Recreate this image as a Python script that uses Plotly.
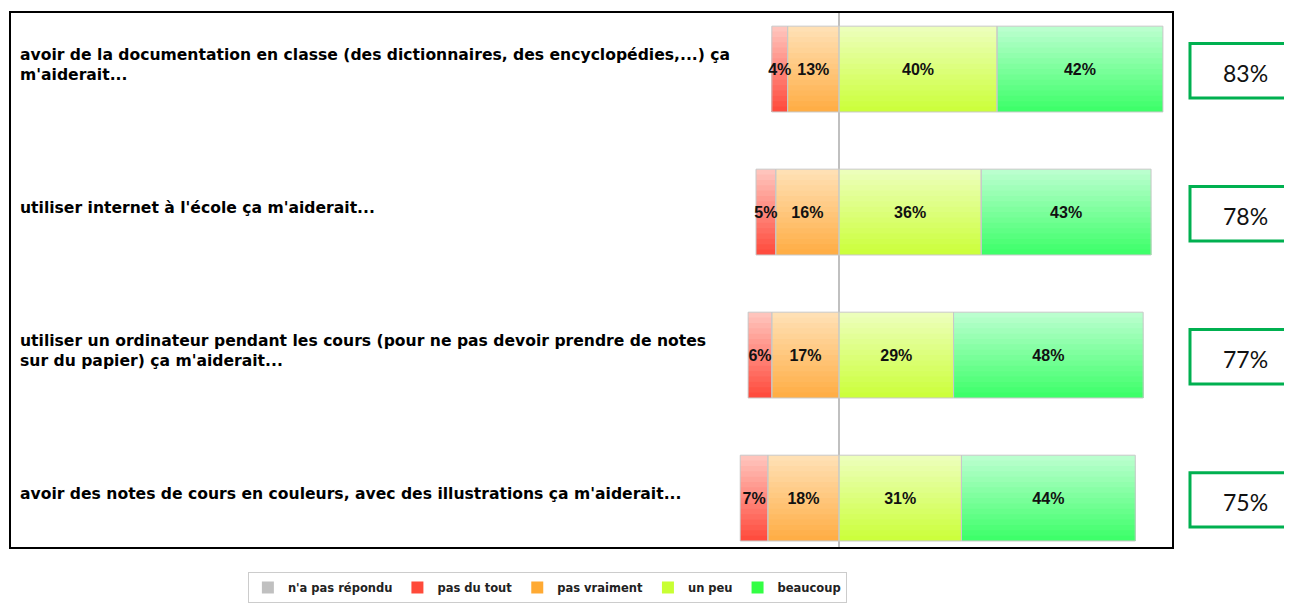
import plotly.graph_objects as go

categories = [
    "avoir de la documentation en classe (des dictionnaires, des encyclopédies,...) ça<br>m'aiderait...",
    "utiliser internet à l'école ça m'aiderait...",
    "utiliser un ordinateur pendant les cours (pour ne pas devoir prendre de notes<br>sur du papier) ça m'aiderait...",
    "avoir des notes de cours en couleurs, avec des illustrations ça m'aiderait...",
]
no_answer = [0, 0, 0, 0]
pas_du_tout = [4, 5, 6, 7]
pas_vraiment = [13, 16, 17, 18]
un_peu = [40, 36, 29, 31]
beaucoup = [42, 43, 48, 44]
totals = ["83%", "78%", "77%", "75%"]

# gradient (top colour, bottom colour) and legend colour per series
grad = {
    "pas du tout": ((255, 196, 188), (255, 76, 62)),
    "pas vraiment": ((255, 224, 180), (255, 174, 70)),
    "un peu": ((236, 255, 186), (204, 255, 60)),
    "beaucoup": ((186, 255, 206), (62, 255, 106)),
}
legend_col = {
    "n'a pas répondu": "#c0c0c0",
    "pas du tout": "#ff4a3a",
    "pas vraiment": "#ffaa33",
    "un peu": "#c8ff33",
    "beaucoup": "#33ff44",
}
ranks = {"n'a pas répondu": 1, "pas du tout": 2, "pas vraiment": 3, "un peu": 4, "beaucoup": 5}

BAR_W = 0.6
K = 16

# segment bases and lengths derived from the data
segments = [
    ("pas vraiment", [-v for v in pas_vraiment], pas_vraiment),
    ("pas du tout", [-(a + b) for a, b in zip(pas_vraiment, pas_du_tout)], pas_du_tout),
    ("un peu", [0] * len(un_peu), un_peu),
    ("beaucoup", un_peu, beaucoup),
]

fig = go.Figure()

# legend-only entry for the empty series
fig.add_trace(go.Bar(
    y=categories, x=no_answer, orientation="h", name="n'a pas répondu",
    marker=dict(color=legend_col["n'a pas répondu"], line=dict(width=0)),
    legendrank=ranks["n'a pas répondu"], hoverinfo="skip",
))

def mix(c1, c2, t):
    return "rgb(%d,%d,%d)" % tuple(round(a + (b - a) * t) for a, b in zip(c1, c2))

for name, base, vals in segments:
    top, bot = grad[name]
    step = BAR_W / K
    for k in range(K):
        t = k / (K - 1)
        fig.add_trace(go.Bar(
            y=categories, x=vals, base=base, orientation="h",
            width=BAR_W - k * step, offset=-BAR_W / 2 + k * step,
            marker=dict(color=mix(top, bot, t), line=dict(width=0)),
            name=name, legendgroup=name, showlegend=False, hoverinfo="skip",
        ))
    # legend entry with saturated colour (no visible marks)
    fig.add_trace(go.Bar(
        y=categories, x=[0] * len(vals), base=base, orientation="h",
        width=BAR_W, offset=-BAR_W / 2,
        marker=dict(color=legend_col[name], line=dict(width=0)),
        name=name, legendgroup=name, showlegend=True, legendrank=ranks[name],
        hoverinfo="skip",
    ))

# outlines and value labels on top
for name, base, vals in segments:
    fig.add_trace(go.Bar(
        y=categories, x=vals, base=base, orientation="h",
        width=BAR_W, offset=-BAR_W / 2,
        marker=dict(color="rgba(0,0,0,0)", line=dict(color="#c8c8c8", width=1)),
        text=[f"{v}%" for v in vals],
        textposition="inside", insidetextanchor="middle", textangle=0,
        constraintext="none",
        insidetextfont=dict(family="Liberation Sans, Arial", size=16, color="#111111", weight="bold"),
        showlegend=False, hoverinfo="skip",
    ))

for i, (cat, tot) in enumerate(zip(categories, totals)):
    fig.add_annotation(
        x=0.006, xref="paper", y=cat, yref="y",
        text=cat, showarrow=False, xanchor="left", yanchor="middle", align="left",
        yshift=4,
        font=dict(family="DejaVu Sans", size=15.6, color="#000000", weight="bold"),
    )
    fig.add_shape(
        type="rect", xref="paper", yref="y",
        x0=1.0155, x1=1.1016, y0=i - 0.178, y1=i + 0.202,
        line=dict(color="#00b050", width=3), fillcolor="white",
    )
    fig.add_annotation(
        x=1.063, xref="paper", y=cat, yref="y",
        text=tot, showarrow=False, xanchor="center", yanchor="middle",
        yshift=-4,
        font=dict(family="Lato, Open Sans", size=23, color="#111111"),
    )

fig.update_layout(
    width=1284, height=595,
    margin=dict(l=3, r=120, t=5, b=56, autoexpand=False),
    barmode="overlay",
    plot_bgcolor="white",
    paper_bgcolor="white",
    showlegend=True,
    legend=dict(
        orientation="h", x=0.462, xanchor="center", y=-0.0468, yanchor="top",
        bordercolor="#cccccc", borderwidth=1, bgcolor="white",
        font=dict(family="DejaVu Sans", size=11.5, color="#222222", weight="bold"),
        itemwidth=30,
    ),
    xaxis=dict(
        range=[-209.6, 84.3], showgrid=False, showticklabels=False, ticks="",
        zeroline=True, zerolinecolor="#c0c0c0", zerolinewidth=2,
        showline=True, mirror=True, linecolor="#000000", linewidth=2,
    ),
    yaxis=dict(
        range=[3.342, -0.392], showgrid=False, showticklabels=False, ticks="",
        showline=True, mirror=True, linecolor="#000000", linewidth=2,
    ),
)

fig.write_html("out.html")
